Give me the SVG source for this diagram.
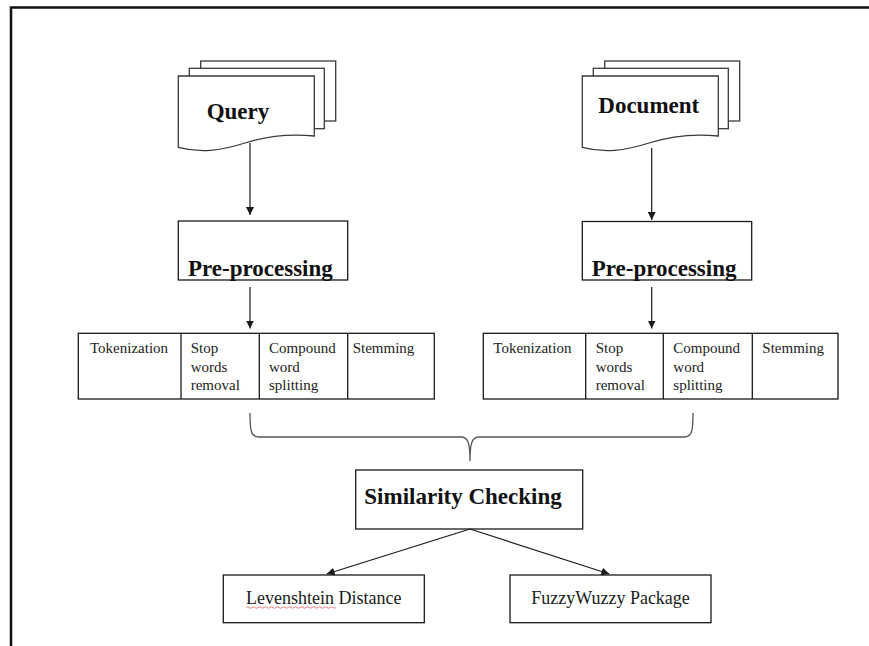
<svg xmlns="http://www.w3.org/2000/svg" width="869" height="646" viewBox="0 0 869 646">
  <style>
    .page { fill: #ffffff; stroke: #3a3a3a; stroke-width: 1.3; }
    .box { fill: #ffffff; stroke: #1a1a1a; stroke-width: 1.3; }
    .cell { fill: none; stroke: #1a1a1a; stroke-width: 1.3; }
    .title { font-family: "Liberation Serif", "Times New Roman", serif; font-weight: bold; font-size: 23px; fill: #111111; }
    .cellText { font-family: "Liberation Serif", "Times New Roman", serif; font-size: 15px; fill: #222222; }
    .label { font-family: "Liberation Serif", "Times New Roman", serif; font-size: 18px; fill: #1a1a1a; }
    .conn { fill: none; stroke: #1a1a1a; stroke-width: 1.2; }
    .brace { fill: none; stroke: #555555; stroke-width: 1.3; }
  </style>
  <defs>
    <marker id="arrow" viewBox="0 0 10 10" refX="10" refY="5" markerWidth="8" markerHeight="8" markerUnits="userSpaceOnUse" orient="auto">
      <path d="M0,0 L10,5 L0,10 Z" fill="#1a1a1a"/>
    </marker>
  </defs>

  <rect width="869" height="646" fill="#ffffff"/>

  <!-- outer frame: top and left rules -->
  <g id="frame">
    <path d="M11,646 V7.5 H869" fill="none" stroke="#111111" stroke-width="2.5"/>
  </g>

  <!-- Query: multi-page document -->
  <g id="query">
    <rect class="page" x="200.7" y="61" width="135" height="60"/>
    <rect class="page" x="189.3" y="68.3" width="135" height="60.4"/>
    <path class="page" d="M178.3,76 H314.3 V136 C295,134 270,135 245,143 C220,151 200,153 178.3,147.3 Z"/>
    <text class="title" x="206.7" y="119.3">Query</text>
  </g>

  <!-- Document: multi-page document -->
  <g id="document">
    <rect class="page" x="604.7" y="61" width="135" height="60"/>
    <rect class="page" x="593.3" y="68.3" width="135" height="60.4"/>
    <path class="page" d="M582.3,76 H718.3 V136 C699,134 674,135 649,143 C624,151 604,153 582.3,147.3 Z"/>
    <text class="title" x="598.3" y="113.3">Document</text>
  </g>

  <!-- Pre-processing (query side) -->
  <g id="preprocess-query">
    <rect class="box" x="178.3" y="221" width="169.4" height="59"/>
    <text class="title" x="188" y="276">Pre-processing</text>
  </g>

  <!-- Pre-processing (document side) -->
  <g id="preprocess-document">
    <rect class="box" x="582.3" y="221.5" width="169.4" height="58.5"/>
    <text class="title" x="591.7" y="276">Pre-processing</text>
  </g>

  <!-- Pre-processing steps (query side) -->
  <g id="steps-query">
    <rect class="cell" x="78.3" y="333.3" width="356" height="65.7"/>
    <path class="cell" d="M181,333.3 V399 M259.3,333.3 V399 M347.7,333.3 V399"/>
    <text class="cellText" x="90" y="353.3">Tokenization</text>
    <text class="cellText" x="190.7" y="353.3">Stop</text>
    <text class="cellText" x="190.7" y="371.6">words</text>
    <text class="cellText" x="190.7" y="390">removal</text>
    <text class="cellText" x="269" y="353.3">Compound</text>
    <text class="cellText" x="269" y="371.6">word</text>
    <text class="cellText" x="269" y="390">splitting</text>
    <text class="cellText" x="352.7" y="353.3">Stemming</text>
  </g>

  <!-- Pre-processing steps (document side) -->
  <g id="steps-document">
    <rect class="cell" x="483.3" y="333.3" width="354.7" height="65.7"/>
    <path class="cell" d="M585.7,333.3 V399 M663.3,333.3 V399 M752.3,333.3 V399"/>
    <text class="cellText" x="493.3" y="353.3">Tokenization</text>
    <text class="cellText" x="595.7" y="353.3">Stop</text>
    <text class="cellText" x="595.7" y="371.6">words</text>
    <text class="cellText" x="595.7" y="390">removal</text>
    <text class="cellText" x="673.3" y="353.3">Compound</text>
    <text class="cellText" x="673.3" y="371.6">word</text>
    <text class="cellText" x="673.3" y="390">splitting</text>
    <text class="cellText" x="762.3" y="353.3">Stemming</text>
  </g>

  <!-- Similarity Checking -->
  <g id="similarity">
    <rect class="box" x="355.7" y="470" width="227" height="59"/>
    <text class="title" x="364.3" y="504">Similarity Checking</text>
  </g>

  <!-- Levenshtein Distance -->
  <g id="levenshtein">
    <rect class="box" x="223.3" y="575" width="201" height="47.7"/>
    <text class="label" x="323.8" y="604.3" text-anchor="middle">Levenshtein Distance</text>
    <path d="M246,607.5 q1.5,-1.5 3,0 t3,0 t3,0 t3,0 t3,0 t3,0 t3,0 t3,0 t3,0 t3,0 t3,0 t3,0 t3,0 t3,0 t3,0 t3,0 t3,0 t3,0 t3,0 t3,0 t3,0 t3,0 t3,0 t3,0 t3,0 t3,0 t3,0 t3,0 t3,0 t3,0" fill="none" stroke="#e06060" stroke-width="0.8"/>
  </g>

  <!-- FuzzyWuzzy Package -->
  <g id="fuzzywuzzy">
    <rect class="box" x="510" y="575" width="201" height="47.7"/>
    <text class="label" x="610.5" y="604.3" text-anchor="middle">FuzzyWuzzy Package</text>
  </g>

  <!-- connectors -->
  <g id="connectors">
    <line class="conn" x1="250" y1="143" x2="250" y2="215" marker-end="url(#arrow)"/>
    <line class="conn" x1="651.7" y1="148" x2="651.7" y2="220" marker-end="url(#arrow)"/>
    <line class="conn" x1="250" y1="287" x2="250" y2="328.5" marker-end="url(#arrow)"/>
    <line class="conn" x1="651.7" y1="287" x2="651.7" y2="328.5" marker-end="url(#arrow)"/>
    <path class="brace" d="M250,413 C250,431 251,437 259,437 H461 C468,437 470,443 470,461 C470,443 472,437 479,437 H684 C692,437 693,431 693,413"/>
    <line class="conn" x1="470" y1="529" x2="326.7" y2="574" marker-end="url(#arrow)"/>
    <line class="conn" x1="470" y1="529" x2="609.3" y2="574" marker-end="url(#arrow)"/>
  </g>
</svg>
